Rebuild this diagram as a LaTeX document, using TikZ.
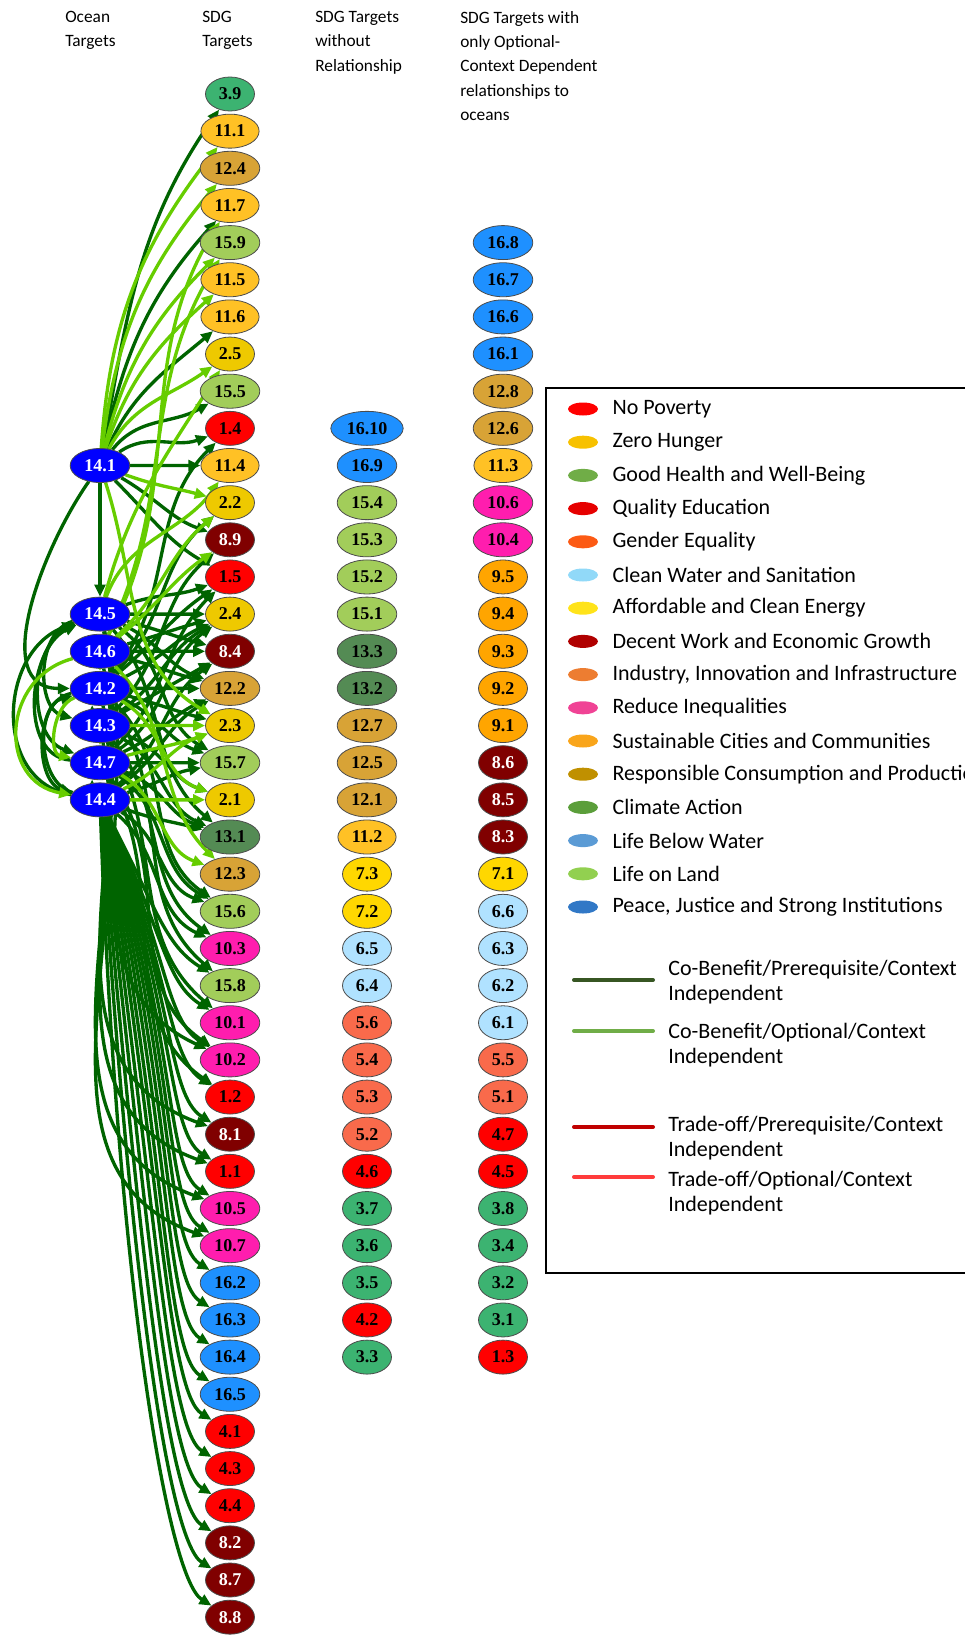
\documentclass[tikz,border=0pt]{standalone}
\usepackage{fontspec}
\setmainfont{Liberation Serif}
\newfontfamily\calib{Carlito}
\usetikzlibrary{shapes.geometric,arrows.meta,positioning}
\pgfdeclarelayer{back}
\pgfsetlayers{back,main}

% goal colours
\definecolor{g1}{HTML}{FF0000}
\definecolor{g2}{HTML}{EEC900}
\definecolor{g3}{HTML}{3CB371}
\definecolor{g4}{HTML}{FF0000}
\definecolor{g5}{HTML}{F96A4B}
\definecolor{g6}{HTML}{B0E2FF}
\definecolor{g7}{HTML}{FFD700}
\definecolor{g8}{HTML}{800000}
\definecolor{g9}{HTML}{FFA500}
\definecolor{g10}{HTML}{FF1DAE}
\definecolor{g11}{HTML}{FFC125}
\definecolor{g12}{HTML}{D8A336}
\definecolor{g13}{HTML}{548B54}
\definecolor{g14}{HTML}{0000FF}
\definecolor{g15}{HTML}{A2CD5A}
\definecolor{g16}{HTML}{1E90FF}
\definecolor{cobgreen}{HTML}{006400}
\definecolor{optgreen}{HTML}{66CD00}
% legend colours
\definecolor{k1}{HTML}{FF0000}
\definecolor{k2}{HTML}{F7C100}
\definecolor{k3}{HTML}{70AD47}
\definecolor{k4}{HTML}{E60000}
\definecolor{k5}{HTML}{FC5A14}
\definecolor{k6}{HTML}{91D9F8}
\definecolor{k7}{HTML}{FFE31A}
\definecolor{k8}{HTML}{B00000}
\definecolor{k9}{HTML}{ED7D31}
\definecolor{k10}{HTML}{F04395}
\definecolor{k11}{HTML}{F9A51B}
\definecolor{k12}{HTML}{C09000}
\definecolor{k13}{HTML}{5B9E3A}
\definecolor{k14}{HTML}{5B9BD5}
\definecolor{k15}{HTML}{92D050}
\definecolor{k16}{HTML}{3178C6}
\definecolor{line1}{HTML}{375623}
\definecolor{line2}{HTML}{70AD47}
\definecolor{line3}{HTML}{C00000}
\definecolor{line4}{HTML}{FF3B3B}

\newcommand{\sdgfont}{\fontsize{13.5}{15}\selectfont\bfseries}
\newcommand{\headfont}{\calib\fontsize{13}{18.2}\selectfont}
\newcommand{\keyfont}{\calib\fontsize{16.5}{18.75}\selectfont}

\tikzset{
  sdg/.style={ellipse, draw=black!70, line width=0.6pt, minimum width=36.75pt,
    minimum height=25.5pt, inner xsep=4pt, inner ysep=2pt, font=\sdgfont},
  ocean/.style={sdg, fill=g14, text=white},
  goal1/.style={fill=g1}, goal2/.style={fill=g2}, goal3/.style={fill=g3},
  goal4/.style={fill=g4}, goal5/.style={fill=g5}, goal6/.style={fill=g6},
  goal7/.style={fill=g7}, goal8/.style={fill=g8, text=white}, goal9/.style={fill=g9},
  goal10/.style={fill=g10}, goal11/.style={fill=g11}, goal12/.style={fill=g12},
  goal13/.style={fill=g13}, goal15/.style={fill=g15}, goal16/.style={fill=g16},
  cob/.style={draw=cobgreen, line width=2.5pt, -{Triangle[length=9pt,width=8pt]}},
  opt/.style={cob, draw=optgreen},
  head/.style={anchor=north west, inner sep=0pt, align=left, font=\headfont},
  keydot/.style={ellipse, minimum width=22.5pt, minimum height=9.75pt, inner sep=0pt},
  keytext/.style={anchor=west, inner sep=0pt, align=left, font=\keyfont}
}

\begin{document}
\begin{tikzpicture}[x=0.75pt, y=0.75pt, line cap=round]
  \useasboundingbox (0,0) rectangle (964,-1635);

  % Headings
  \node[head] (hocean) at (65,-11) {Ocean\\Targets};
  \node[head] (hsdg) at (202,-11) {SDG\\Targets};
  \node[head] (hnone) at (315,-11) {SDG Targets\\without\\Relationship};
  \node[head] (hopt) at (460,-11) {SDG Targets with\\only Optional-\\Context Dependent\\relationships to\\oceans};

  % SDG targets linked to ocean targets
  \foreach \lab [count=\i from 0] in {3.9,11.1,12.4,11.7,15.9,11.5,11.6,2.5,15.5,1.4,
      11.4,2.2,8.9,1.5,2.4,8.4,12.2,2.3,15.7,2.1,13.1,12.3,15.6,10.3,15.8,10.1,10.2,
      1.2,8.1,1.1,10.5,10.7,16.2,16.3,16.4,16.5,4.1,4.3,4.4,8.2,8.7,8.8} {
    \pgfmathtruncatemacro\g{\lab}
    \node[sdg, goal\g] (s\i) at (230,-94-37.15*\i) {\lab};
  }

  % SDG targets without relationship
  \foreach \lab [count=\i from 9] in {16.10,16.9,15.4,15.3,15.2,15.1,13.3,13.2,12.7,
      12.5,12.1,11.2,7.3,7.2,6.5,6.4,5.6,5.4,5.3,5.2,4.6,3.7,3.6,3.5,4.2,3.3} {
    \pgfmathtruncatemacro\g{\lab}
    \node[sdg, goal\g] (n\i) at (367,-94-37.15*\i) {\lab};
  }

  % SDG targets with optional context dependent links
  \foreach \lab [count=\i from 4] in {16.8,16.7,16.6,16.1,12.8,12.6,11.3,10.6,10.4,
      9.5,9.4,9.3,9.2,9.1,8.6,8.5,8.3,7.1,6.6,6.3,6.2,6.1,5.5,5.1,4.7,4.5,3.8,3.4,
      3.2,3.1,1.3} {
    \pgfmathtruncatemacro\g{\lab}
    \node[sdg, goal\g] (m\i) at (503,-94-37.15*\i) {\lab};
  }

  % Ocean targets
  \node[ocean] (oc1) at (100,-465.5) {14.1};
  \node[ocean] (oc5) at (100,-614.1) {14.5};
  \node[ocean] (oc6) at (100,-651.25) {14.6};
  \node[ocean] (oc2) at (100,-688.4) {14.2};
  \node[ocean] (oc3) at (100,-725.55) {14.3};
  \node[ocean] (oc7) at (100,-762.7) {14.7};
  \node[ocean] (oc4) at (100,-799.85) {14.4};

  \begin{pgfonlayer}{back}
  % Co-benefit / prerequisite links
  \foreach \a/\b/\o/\n in {oc1/s0/80/235, oc1/s3/78/228, oc1/s6/66/220, oc1/s8/52/210,
      oc1/s9/35/200, oc1/s10/0/180, oc1/s12/-30/160, oc1/s13/-45/150, oc1/oc5/-90/90,
      oc5/s14/0/180, oc5/s15/-15/165, oc5/s16/-25/160, oc5/s13/20/200, oc5/s18/-35/150,
      oc5/s20/-50/140, oc5/s26/-75/155, oc5/s28/-78/160,
      oc6/s15/0/180, oc6/s14/15/195, oc6/s16/-15/165, oc6/s29/-78/160,
      oc2/s16/0/180, oc2/s9/50/225, oc2/s11/45/220, oc2/s13/40/215, oc2/s14/25/205,
      oc2/s17/-15/165, oc2/s18/-25/160, oc2/s22/-45/145, oc2/s24/-55/140, oc2/s30/-80/160,
      oc3/s12/45/220, oc3/s14/35/210, oc3/s15/30/210, oc3/s19/-20/160, oc3/s20/-30/155,
      oc3/s23/-50/145, oc3/s25/-60/140, oc3/s31/-80/160,
      oc7/s18/0/180, oc7/s16/25/205, oc7/s14/35/215, oc7/s13/45/225, oc7/s20/-20/160,
      oc7/s22/-35/150, oc7/s26/-55/145, oc7/s27/-60/145,
      oc4/s15/40/215, oc4/s16/35/210, oc4/s18/15/190, oc4/s20/-20/165, oc4/s22/-30/160,
      oc4/s23/-40/155}
    \draw[cob] (\a) to[out=\o, in=\n] (\b);
  \foreach \k in {24,...,41} {
    \pgfmathsetmacro\od{0.75*37.15*(\k-19)*0.55}
    \pgfmathsetmacro\o{-88+(41-\k)*1.5}
    \draw[cob] (oc4) to[out=\o, in=148, out distance=\od pt, in distance=40pt] (s\k);
  }

  % Co-benefit / optional links
  \foreach \a/\b/\o/\n in {oc1/s1/86/232, oc1/s2/83/230, oc1/s4/76/225, oc1/s5/72/222,
      oc1/s7/62/215, oc1/s11/-20/165, oc1/s17/-72/150, oc5/s10/70/235, oc5/s7/75/238,
      oc6/s3/62/238, oc6/s4/64/238, oc6/s12/38/215, oc6/s11/42/220, oc6/s21/-45/135,
      oc2/s19/-30/160, oc3/s17/0/180, oc7/s17/15/200, oc7/s21/-30/160,
      oc4/s19/0/180, oc4/s17/25/200}
    \draw[opt] (\a) to[out=\o, in=\n] (\b);

  % Links among ocean targets
  \draw[cob] (oc1) to[out=235, in=180] (oc2);
  \draw[cob] (oc4) to[out=170, in=200, looseness=1.2] (oc5);
  \draw[cob] (oc7) to[out=175, in=205] (oc5);
  \draw[cob] (oc4) to[out=165, in=195] (oc2);
  \draw[cob] (oc5) to[out=195, in=165] (oc3);
  \draw[cob] (oc5) to[out=200, in=160] (oc7);
  \draw[cob] (oc2) to[out=190, in=165] (oc4);
  \draw[cob] (oc3.115) -- (oc2.245);
  \draw[cob] (oc4.115) -- (oc7.245);
  \draw[opt] (oc6) -- (oc2);
  \draw[opt] (oc3) -- (oc7);
  \draw[opt] (oc6) to[out=195, in=170, looseness=1.4] (oc4);
  \draw[opt] (oc2) to[out=200, in=170] (oc7);
  \end{pgfonlayer}

  % Legend
  \draw[line width=1.5pt] (546,-388) rectangle (975,-1273);
  \foreach \name/\col [count=\i from 0] in {No Poverty/k1, Zero Hunger/k2,
      Good Health and Well-Being/k3, Quality Education/k4, Gender Equality/k5,
      Clean Water and Sanitation/k6, Affordable and Clean Energy/k7,
      Decent Work and Economic Growth/k8, {Industry, Innovation and Infrastructure}/k9,
      Reduce Inequalities/k10, Sustainable Cities and Communities/k11,
      Responsible Consumption and Production/k12, Climate Action/k13,
      Life Below Water/k14, Life on Land/k15, {Peace, Justice and Strong Institutions}/k16} {
    \node[keydot, fill=\col] (dot\i) at (583,-409-33.2*\i) {};
    \node[keytext, right=10.5pt of dot\i] (key\i) {\name};
  }

  \draw[line1, line width=3pt] (574,-980) -- (653,-980);
  \node[keytext] (rel1) at (668,-982) {Co-Benefit/Prerequisite/Context\\Independent};
  \draw[line2, line width=3pt] (574,-1031) -- (653,-1031);
  \node[keytext] (rel2) at (668,-1045) {Co-Benefit/Optional/Context\\Independent};
  \draw[line3, line width=3pt] (574,-1127) -- (653,-1127);
  \node[keytext] (rel3) at (668,-1138) {Trade-off/Prerequisite/Context\\Independent};
  \draw[line4, line width=3pt] (574,-1177) -- (653,-1177);
  \node[keytext] (rel4) at (668,-1193) {Trade-off/Optional/Context\\Independent};
\end{tikzpicture}
\end{document}
